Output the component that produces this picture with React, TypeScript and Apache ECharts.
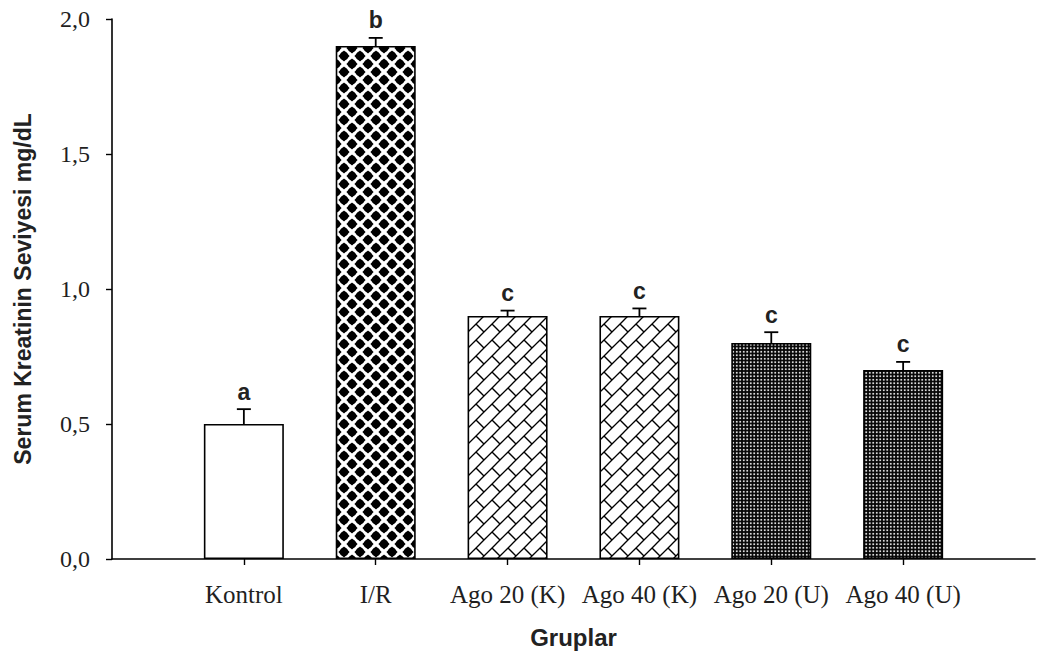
import React, { useEffect, useRef } from "react";
import * as echarts from "echarts";

// Group names, mean serum creatinine (mg/dL), SEM and significance letters
const categories = ["Kontrol", "I/R", "Ago 20 (K)", "Ago 40 (K)", "Ago 20 (U)", "Ago 40 (U)"];
const means = [0.5, 1.9, 0.9, 0.9, 0.8, 0.7];
const errors = [0.055, 0.03, 0.02, 0.028, 0.04, 0.03];
const letters = ["a", "b", "c", "c", "c", "c"];
const fillKinds = ["plain", "diamond", "brick", "brick", "dots", "dots"];

const SERIF = "'Liberation Serif', 'Times New Roman', serif";
const SANS = "'Liberation Sans', Arial, sans-serif";

function makeCanvas(size: number) {
  const c = document.createElement("canvas");
  c.width = size;
  c.height = size;
  return c;
}

// Black rounded diamonds on white, laid out as a 45° checkerboard
function diamondPattern() {
  const c = makeCanvas(16);
  const g = c.getContext("2d")!;
  g.fillStyle = "#fff";
  g.fillRect(0, 0, 16, 16);
  g.fillStyle = "#000";
  const r = 5.6;
  const centers = [
    [8, 8],
    [0, 0],
    [16, 0],
    [0, 16],
    [16, 16],
  ];
  for (const [cx, cy] of centers) {
    g.beginPath();
    g.moveTo(cx, cy - r);
    g.lineTo(cx + r, cy);
    g.lineTo(cx, cy + r);
    g.lineTo(cx - r, cy);
    g.closePath();
    g.fill();
    g.beginPath();
    g.arc(cx, cy, 4.4, 0, Math.PI * 2);
    g.fill();
  }
  return c;
}

// Diagonal brick hatch
function brickPattern() {
  const c = makeCanvas(16);
  const g = c.getContext("2d")!;
  g.fillStyle = "#fff";
  g.fillRect(0, 0, 16, 16);
  g.strokeStyle = "#000";
  g.lineWidth = 1.3;
  const segs = [
    [-2, 2, 2, -2],
    [-2, 18, 18, -2],
    [14, 18, 18, 14],
    [12, 4, 20, 12],
    [-4, 4, 4, 12],
  ];
  for (const [x1, y1, x2, y2] of segs) {
    g.beginPath();
    g.moveTo(x1, y1);
    g.lineTo(x2, y2);
    g.stroke();
  }
  return c;
}

// Fine white dot grid on black
function dotPattern() {
  const c = makeCanvas(7);
  const g = c.getContext("2d")!;
  g.fillStyle = "#000";
  g.fillRect(0, 0, 7, 7);
  g.fillStyle = "#fff";
  g.fillRect(2, 2, 3, 3);
  return c;
}

export default function App() {
  const ref = useRef<HTMLDivElement>(null);

  useEffect(() => {
    if (!ref.current) return;
    const chart = echarts.init(ref.current, undefined, { renderer: "svg" });

    const fills: Record<string, any> = {
      plain: "#fff",
      diamond: { image: diamondPattern(), repeat: "repeat" },
      brick: { image: brickPattern(), repeat: "repeat" },
      dots: { image: dotPattern(), repeat: "repeat", scaleX: 0.5, scaleY: 0.5 },
    };

    // padded with an empty slot at each end so the groups sit on interior points
    const xData = ["", ...categories, ""];
    const barData: any[] = ["-"];
    categories.forEach((_, i) => {
      barData.push({
        value: means[i],
        itemStyle: { color: fills[fillKinds[i]], borderColor: "#000", borderWidth: 1.6 },
      });
    });
    barData.push("-");

    const errData = categories.map((_, i) => [i + 1, means[i], errors[i], letters[i]]);

    chart.setOption({
      animation: false,
      backgroundColor: "#fff",
      grid: { left: 112, right: 2, top: 19, bottom: 100, containLabel: false },
      xAxis: {
        type: "category",
        data: xData,
        boundaryGap: false,
        name: "Gruplar",
        nameLocation: "middle",
        nameGap: 66,
        nameTextStyle: { fontFamily: SANS, fontWeight: "bold", fontSize: 24, color: "#222" },
        axisLine: { lineStyle: { color: "#000", width: 1.6 } },
        axisTick: {
          length: 6,
          interval: (i: number) => i > 0 && i < xData.length - 1,
          lineStyle: { color: "#000", width: 1.4 },
        },
        axisLabel: {
          interval: 0,
          margin: 23,
          fontFamily: SERIF,
          fontSize: 25,
          color: "#1f1f1f",
        },
        splitLine: { show: false },
      },
      yAxis: {
        type: "value",
        min: 0,
        max: 2,
        interval: 0.5,
        name: "Serum Kreatinin Seviyesi mg/dL",
        nameLocation: "middle",
        nameGap: 78,
        nameTextStyle: { fontFamily: SANS, fontWeight: "bold", fontSize: 23, color: "#222" },
        axisLine: { show: true, lineStyle: { color: "#000", width: 1.6 } },
        axisTick: { show: true, length: 6, lineStyle: { color: "#000", width: 1.4 } },
        axisLabel: {
          margin: 22,
          fontFamily: SERIF,
          fontSize: 24,
          color: "#1f1f1f",
          formatter: (v: number) => v.toFixed(1).replace(".", ","),
        },
        splitLine: { show: false },
      },
      series: [
        {
          type: "bar",
          data: barData,
          barWidth: 80,
          z: 2,
        },
        {
          type: "custom",
          data: errData,
          z: 3,
          renderItem: (params: any, api: any) => {
            const idx = api.value(0);
            const mean = api.value(1);
            const err = api.value(2);
            const letter = letters[params.dataIndex];
            const base = api.coord([idx, mean]);
            const top = api.coord([idx, mean + err]);
            const half = 7;
            return {
              type: "group",
              children: [
                {
                  type: "line",
                  shape: { x1: base[0], y1: base[1], x2: top[0], y2: top[1] },
                  style: { stroke: "#000", lineWidth: 1.8 },
                },
                {
                  type: "line",
                  shape: { x1: top[0] - half, y1: top[1], x2: top[0] + half, y2: top[1] },
                  style: { stroke: "#000", lineWidth: 1.8 },
                },
                {
                  type: "text",
                  x: top[0],
                  y: top[1] - 6,
                  style: {
                    text: letter,
                    fontFamily: SANS,
                    fontWeight: "bold",
                    fontSize: 23,
                    fill: "#222",
                    align: "center",
                    verticalAlign: "bottom",
                  },
                },
              ],
            };
          },
        },
      ],
    });

    return () => chart.dispose();
  }, []);

  return (
    <div
      ref={ref}
      style={{ position: "fixed", left: 0, top: 0, width: 1038, height: 659, background: "#fff" }}
    />
  );
}
